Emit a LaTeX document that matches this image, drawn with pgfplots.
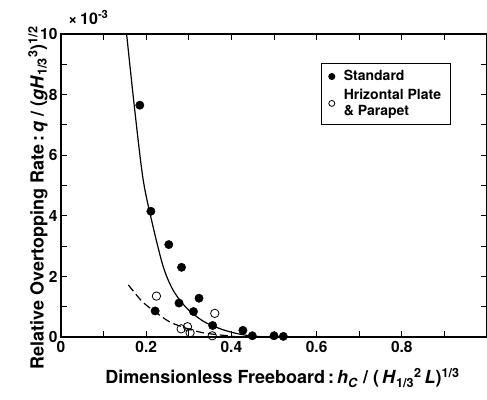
\documentclass[border=0pt]{standalone}
\usepackage{pgfplots}
\pgfplotsset{compat=1.18}
\usepackage{fontspec}
\setmainfont{TeX Gyre Heros}
\begin{document}
\begin{tikzpicture}
\begin{axis}[
  scale only axis, width=426pt, height=303pt,
  xmin=0, xmax=1, ymin=0, ymax=10,
  xtick={0,0.2,0.4,0.6,0.8,1}, minor xtick={0.1,0.3,0.5,0.7,0.9},
  xticklabels={0,0.2,0.4,0.6,0.8,{}},
  ytick={0,2,4,6,8,10}, minor ytick={1,3,5,7,9},
  tick align=inside, major tick length=6pt, minor tick length=6pt,
  every tick/.style={black, line width=1pt},
  axis line style={line width=1.3pt},
  /pgf/number format/assume math mode=true,
  tick label style={font=\fontsize{15.5}{17}\selectfont\bfseries},
  xticklabel style={yshift=-1pt},
  xlabel={\bfseries Dimensionless Freeboard\,:\,\textit{h}\textsubscript{\textit{C}} / (\,\textit{H}\textsubscript{1/3}\textsuperscript{2}\,\textit{L})\textsuperscript{1/3}},
  ylabel={\bfseries Relative Overtopping Rate\,:\,\textit{q} / (\textit{gH}\textsubscript{1/3}\textsuperscript{3})\textsuperscript{1/2}},
  label style={font=\fontsize{18}{20}\selectfont},
  xlabel style={at={(axis description cs:0.52,0)}, anchor=north, yshift=-28pt},
  ylabel style={at={(axis description cs:0,0.46)}, anchor=south, yshift=10pt},
  legend style={at={(0.611,0.904)}, anchor=north west, draw=black, line width=1pt,
    font=\fontsize{14}{16}\selectfont\bfseries, cells={anchor=west, align=left},
    row sep=3pt, inner sep=5pt, inner xsep=7pt,
    /tikz/every odd column/.append style={column sep=7pt}},
  legend image post style={mark size=3pt},
  clip=false,
]
\addplot[black, line width=1.2pt, smooth, forget plot] coordinates {
 (0.154,10) (0.173,7.5) (0.193,5.18) (0.216,3.65) (0.240,2.32) (0.263,1.55)
 (0.294,0.97) (0.333,0.53) (0.372,0.28) (0.411,0.12) (0.45,0.03) (0.50,0.0) (0.60,0.0)};
\addplot[black, line width=1.2pt, smooth, dash pattern=on 8pt off 4pt, forget plot] coordinates {
 (0.158,1.72) (0.190,1.18) (0.220,0.84) (0.255,0.50) (0.294,0.29) (0.333,0.14) (0.372,0.07) (0.41,0.01)};
\addplot[only marks, mark=*, mark size=4.2pt, black, mark options={fill=black}] coordinates {
 (0.185,7.65) (0.211,4.15) (0.253,3.05) (0.283,2.3) (0.277,1.12) (0.324,1.28)
 (0.221,0.86) (0.311,0.84) (0.356,0.38) (0.427,0.22) (0.449,0.04) (0.500,0.04) (0.522,0.02)};
\addlegendentry{Standard}
\addplot[only marks, mark=o, mark size=4.2pt, black, mark options={fill=white, line width=0.8pt}] coordinates {
 (0.224,1.35) (0.361,0.78) (0.282,0.27) (0.297,0.34) (0.303,0.14) (0.355,0.04)};
\addlegendentry{Hrizontal Plate\\\& Parapet}
\end{axis}
\node[anchor=south west, font=\fontsize{16}{18}\selectfont\bfseries, inner sep=0pt] at ([shift={(7pt,9pt)}]current axis.north west) {×\,10\textsuperscript{-3}};
\pgfresetboundingbox
\path[use as bounding box] ([shift={(-61pt,-62pt)}]current axis.south west) rectangle ([shift={(0pt,34pt)}]current axis.north east);
\end{tikzpicture}
\end{document}
